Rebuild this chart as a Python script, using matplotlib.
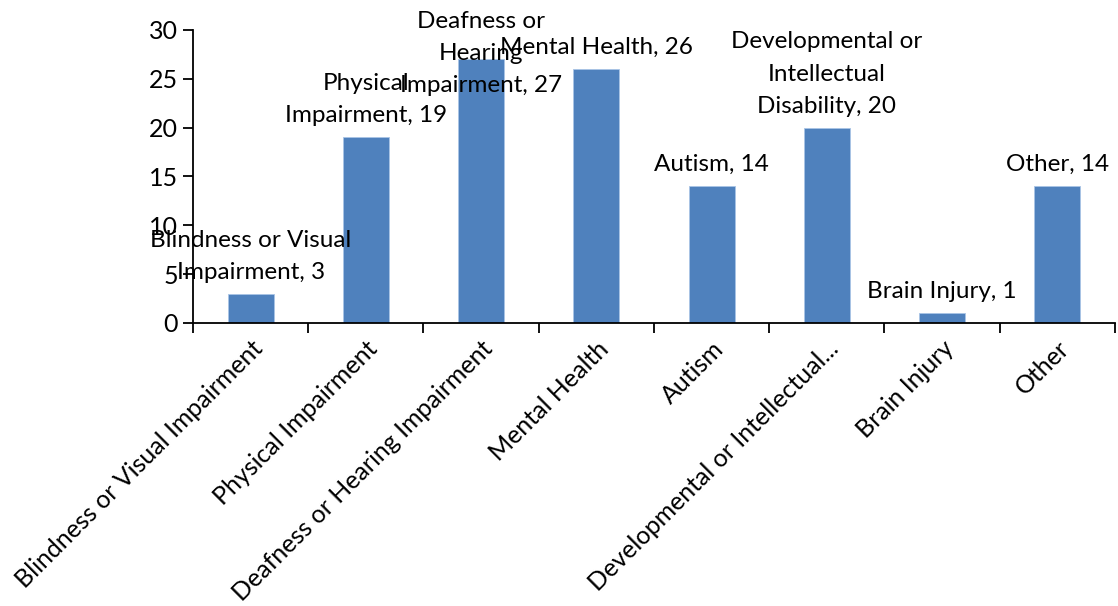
import numpy as np
import matplotlib.pyplot as plt

# Data
categories = ['Blindness or Visual Impairment', 'Physical Impairment',
              'Deafness or Hearing Impairment', 'Mental Health', 'Autism',
              'Developmental or Intellectual...', 'Brain Injury', 'Other']
values = [3, 19, 27, 26, 14, 20, 1, 14]
data_labels = ['Blindness or Visual\nImpairment, 3', 'Physical\nImpairment, 19',
               'Deafness or\nHearing\nImpairment, 27', 'Mental Health, 26',
               'Autism, 14', 'Developmental or\nIntellectual\nDisability, 20',
               'Brain Injury, 1', 'Other, 14']

plt.rcParams['font.family'] = ['Lato', 'DejaVu Sans']

fig = plt.figure(figsize=(11.18, 6.06), dpi=100)
ax = fig.add_axes([0.1726, 0.467, 0.8247, 0.4835])

x = np.arange(len(categories))
ax.bar(x, values, width=0.4, color='#4f81bd', edgecolor='#a9c4e6', linewidth=0.6)

ann = []
for i, (v, lab) in enumerate(zip(values, data_labels)):
    a = ax.annotate(lab, xy=(i, v), xytext=(0, 8), textcoords='offset points',
                    ha='center', va='bottom', multialignment='center',
                    fontsize=17.5, linespacing=1.65, color='#000000')
    ann.append(a)

ax.set_xlim(-0.5, len(categories) - 0.5)
ax.set_ylim(0, 30)
ax.set_yticks([0, 5, 10, 15, 20, 25, 30])
ax.set_xticks(x)
ax.set_xticklabels(categories, rotation=45, ha='right', va='top',
                   rotation_mode='anchor', fontsize=18)
ax.set_xticks(np.arange(-0.5, len(categories), 1), minor=True)
ax.tick_params(axis='x', which='major', length=0, pad=10)
ax.tick_params(axis='x', which='minor', length=7, width=1.3, direction='out')
ax.tick_params(axis='y', length=7, width=1.3, direction='out', labelsize=18, pad=4)

for s in ['top', 'right']:
    ax.spines[s].set_visible(False)
ax.spines['left'].set_linewidth(1.3)
ax.spines['bottom'].set_linewidth(1.3)

# keep data labels inside the picture, like the spreadsheet does
fig.canvas.draw()
r = fig.canvas.get_renderer()
top_px = fig.bbox.height - 11
for a in ann:
    bb = a.get_window_extent(r)
    if bb.y1 > top_px:
        dy = (bb.y1 - top_px) * 72 / fig.dpi
        a.set_position((0, 8 - dy))

fig.savefig('out.png', dpi=100)
